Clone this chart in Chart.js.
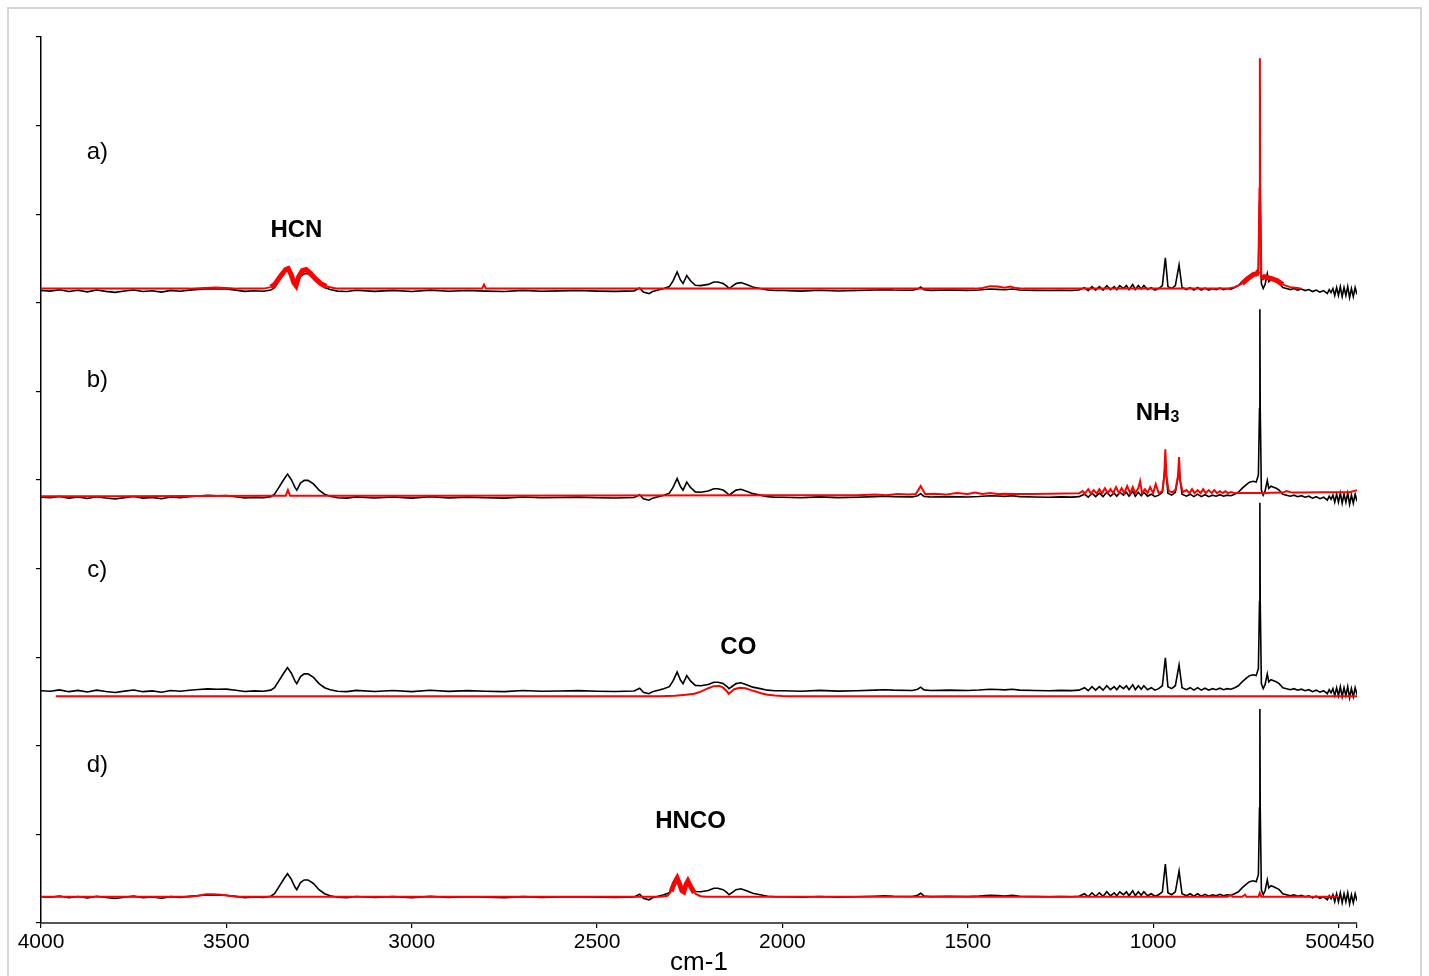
<!DOCTYPE html>
<html>
<head>
<meta charset="utf-8">
<script src="https://cdn.jsdelivr.net/npm/chart.js@4.4.1/dist/chart.umd.min.js"></script>
<style>
  html, body { margin: 0; padding: 0; background: #fff; }
  #wrap { width: 1429px; height: 976px; position: relative; }
</style>
</head>
<body>
<div id="wrap"><canvas id="spectra"></canvas></div>
<script>
// x ticks (wavenumber, cm-1)
const xTickValues = [4000, 3500, 3000, 2500, 2000, 1500, 1000, 500, 450];

// measured spectrum (black), same in every panel, heights above its own baseline
const blackWn = [
  4000, 3975, 3950, 3925, 3900, 3875, 3850, 3825, 3800, 3775, 3750, 3725, 3700, 3675, 3650, 3625,
  3600, 3575, 3550, 3525, 3500, 3475, 3450, 3425, 3400, 3380, 3370, 3360, 3345, 3335, 3325, 3315,
  3310, 3300, 3290, 3280, 3265, 3250, 3235, 3220, 3200, 3175, 3150, 3100, 3050, 3000, 2950, 2900,
  2850, 2800, 2750, 2700, 2650, 2600, 2550, 2500, 2450, 2400, 2385, 2375, 2360, 2350, 2335, 2320,
  2305, 2295, 2284, 2275, 2268, 2258, 2248, 2235, 2220, 2200, 2185, 2174, 2160, 2150, 2144, 2135,
  2125, 2112, 2095, 2080, 2060, 2040, 2020, 2000, 1950, 1900, 1850, 1800, 1750, 1725, 1700, 1650,
  1635, 1627, 1618, 1600, 1550, 1500, 1470, 1440, 1420, 1400, 1380, 1360, 1320, 1280, 1250, 1220,
  1200, 1185, 1175, 1165, 1155, 1145, 1135, 1125, 1115, 1105, 1098, 1090, 1080, 1072, 1065, 1055,
  1048, 1040, 1032, 1025, 1015, 1005, 995, 985, 975, 967, 960, 950, 940, 930, 922, 910,
  900, 890, 880, 870, 860, 850, 840, 830, 820, 810, 800, 790, 780, 770, 760, 750,
  740, 730, 722, 716, 713, 712, 711, 708, 703, 698, 692, 688, 682, 675, 668, 660,
  650, 640, 630, 620, 610, 600, 590, 580, 570, 560, 550, 540, 530, 525, 520, 515,
  510, 505, 500, 495, 490, 485, 480, 475, 470, 465, 460, 455, 450
];
const blackShape = [
  0, -0.6, 0.9, -1.1, 0.3, -1.4, 0.6, -0.9, -2, -0.5, 0.7, -1.1, -0.2, -1.7, 0.2, -0.7,
  0.5, 1.4, 2, 1.7, 1.8, 0.5, -0.9, -0.2, -0.7, 0.6, 3.4, 10, 20, 26, 20, 11,
  8, 16, 19, 19, 15, 8, 3.4, 1.1, -0.6, -1.1, 0.3, -0.9, 0.2, -1.1, 0.5, -0.8,
  0.1, -0.6, -1.1, 0.2, -0.7, -0.3, 0.1, -0.6, -0.9, -0.3, 2.8, -1.7, -3.4, -1.1, 0.6, 2.3,
  4.5, 11, 21, 12, 8, 17, 11, 6, 5.6, 7, 9.6, 9.6, 8, 5, 2.3, 5,
  8, 9, 6.5, 4, 2.3, 0.6, 0, 0, -0.6, 0.3, -0.5, 0, 0.6, 1.1, 0.6, 0.3,
  1.7, 4, 0.9, 0.2, 0.6, 0.2, 0.7, 1.7, 1.4, 0.9, 1.7, 0.6, 0.2, 0, 0.3, 0.1,
  0.6, 3.4, 0, 4.5, 0.6, 4.5, 0.6, 5.6, 1.1, 4.5, 1.1, 5.6, 2.3, 5.6, 1.1, 6.8,
  1.1, 5.6, 1.7, 5.6, 1.1, 3.4, 0.6, 2.3, 5.6, 37, 4.5, 2.3, 5.6, 29, 3.4, 1.1,
  3.4, 0.6, 3.4, 0.6, 2.8, 0.6, 2.3, 1.1, 2.8, 1.1, 2.3, 1.7, 3.4, 5.6, 10, 13.6,
  17, 18, 17, 25, 100, 212, 100, 8, 2.3, 6.8, 19, 10, 12.4, 11.3, 10, 8,
  3.4, 2.3, 1.1, 2.3, 0.6, 1.7, 0, 1.1, -1.1, 0.6, -1.7, 0, -3.4, 1.1, -2.3, 2.3,
  -5.6, 3.4, -5.6, 4.5, -6.8, 3.4, -5.6, 4.5, -8, 2.3, -6.8, 3.4, -4.5
];
const blackBaselines = [713.8, 480.6, 262.2, 29.6];

// reference spectra (red), heights above their baselines
const redAWn = [
  4000, 3600, 3560, 3530, 3500, 3470, 3400, 3380, 3370, 3355, 3340, 3333, 3325, 3318, 3312, 3305,
  3295, 3285, 3275, 3260, 3245, 3230, 3210, 3200, 2810, 2805, 2800, 1480, 1460, 1440, 1420, 1400,
  1385, 1370, 1350, 800, 780, 760, 745, 730, 720, 716, 713, 712, 711, 708, 700, 690,
  680, 665, 650, 630, 610, 600
];
const redAVal = [
  0, 0, 0.8, 1.2, 0.6, 0, 0, 1.7, 4.5, 13.5, 21.5, 22.6, 15.8, 6.8, 3.4, 13.5,
  20.3, 21.5, 18, 11.3, 5.6, 2.3, 0.6, 0, 0, 4.5, 0, 0, 0.8, 2.8, 2.3, 1.1,
  2.3, 0.6, 0, 0, 1.7, 5.6, 11.3, 15.8, 17, 20, 113, 260, 113, 11.3, 13.5, 12.4,
  11.3, 9, 4.5, 1.7, 0.6, 0
];
const redBWn = [
  4000, 3800, 3600, 3400, 3340, 3334, 3328, 3000, 2500, 2000, 1800, 1750, 1720, 1690, 1660, 1640,
  1627, 1615, 1590, 1560, 1530, 1500, 1480, 1460, 1440, 1420, 1400, 1370, 1330, 1280, 1240, 1200,
  1190, 1185, 1175, 1168, 1160, 1152, 1145, 1138, 1130, 1122, 1115, 1108, 1100, 1092, 1085, 1078,
  1070, 1062, 1055, 1048, 1040, 1035, 1030, 1022, 1015, 1008, 1000, 993, 985, 975, 970, 967,
  964, 958, 948, 940, 933, 930, 927, 920, 910, 902, 895, 888, 880, 872, 865, 858,
  850, 842, 835, 828, 820, 812, 805, 798, 790, 780, 760, 740, 720, 700, 680, 650,
  640, 630, 620, 600, 550, 500, 470, 455, 450
];
const redBVal = [
  0, 0, 0.2, 0.3, 0.3, 6.8, 0.3, 0.3, 0.6, 0.9, 1.1, 1.7, 1.1, 2.3, 1.7, 2.3,
  11.3, 2.3, 2.8, 1.7, 3.4, 2.3, 4, 2.3, 3.4, 2.3, 2.8, 2.3, 2.5, 2.7, 2.9, 3.2,
  5.6, 2.9, 7.9, 2.9, 6.8, 2.9, 7.9, 3.2, 9, 3.4, 7.9, 3.4, 10.2, 3.4, 9, 3.4,
  11.3, 3.4, 10.2, 3.4, 9, 17, 3.4, 7.9, 3.4, 10.2, 3.4, 13.5, 3.4, 5.6, 22.6, 53,
  22.6, 5.6, 4.5, 6.8, 22.6, 44, 17, 4.5, 6.8, 3.4, 7.9, 3.4, 6.8, 3.4, 7.9, 3.4,
  6.8, 3.4, 6.8, 3.4, 5.6, 3.4, 5.6, 3.4, 4.5, 3.4, 3.4, 3.4, 3.4, 3.4, 3.7, 4,
  5.6, 4.5, 4, 4, 4.3, 4.5, 4.5, 6.2, 6.8
];
const redCWn = [
  3960, 2330, 2290, 2260, 2238, 2220, 2200, 2185, 2170, 2160, 2150, 2145, 2140, 2130, 2115, 2100,
  2085, 2070, 2058, 2040, 2020, 2000, 1980, 450
];
const redCVal = [
  0, 0, 0.6, 1.7, 2.8, 5.1, 9, 11.3, 11.6, 9.6, 5.6, 2.8, 4.5, 7.9, 9.6, 9,
  6.8, 5.1, 3.4, 1.7, 0.9, 0.3, 0, 0
];
const redDWn = [
  4000, 3600, 3575, 3555, 3535, 3515, 3495, 3470, 2330, 2310, 2300, 2292, 2284, 2278, 2271, 2266,
  2260, 2255, 2248, 2238, 2228, 2220, 2205, 800, 790, 785, 760, 752, 748, 716, 712, 708,
  500
];
const redDVal = [
  0, 0, 1.1, 2.8, 2.8, 2.3, 1.1, 0, 0, 1.1, 6, 15, 21, 15, 7, 5.6,
  14, 17.7, 12, 4.5, 2, 0.6, 0, 0, 1.7, 0, 0, 2.3, 0, 0, 4.5, 0,
  0
];
const redBaselines = [716, 481.8, 256, 29.6];

const FONT = "'Liberation Sans', Arial, sans-serif";

function toPoints(wn, vals, base) {
  return wn.map((x, i) => ({ x: x, y: vals[i] + base }));
}

// wavenumber windows where the reference shows dense rotational structure
function thickIn(ranges) {
  return (ctx) => {
    const a = ctx.p0.parsed.x, b = ctx.p1.parsed.x;
    for (const [hi, lo] of ranges) {
      if (a <= hi && a >= lo && b <= hi && b >= lo) return 5;
    }
    return undefined;
  };
}

const redSets = [
  { wn: redAWn, vals: redAVal, thick: [[3385, 3215], [770, 714], [710, 640]] },
  { wn: redBWn, vals: redBVal, thick: [] },
  { wn: redCWn, vals: redCVal, thick: [] },
  { wn: redDWn, vals: redDVal, thick: [[2305, 2232]] }
];

const datasets = [];
blackBaselines.forEach((base, i) => {
  datasets.push({
    label: 'sample ' + i,
    data: toPoints(blackWn, blackShape, base),
    borderColor: '#000000',
    borderWidth: 1.6,
    pointRadius: 0,
    order: 2
  });
});
redSets.forEach((r, i) => {
  datasets.push({
    label: 'reference ' + i,
    data: toPoints(r.wn, r.vals, redBaselines[i]),
    borderColor: '#ff0000',
    borderWidth: 2,
    pointRadius: 0,
    order: 1,
    segment: { borderWidth: thickIn(r.thick) }
  });
});

// panel letters and compound names
const annotations = [
  { text: 'a)', wn: 3848, y: 872, bold: false },
  { text: 'b)', wn: 3848, y: 614, bold: false },
  { text: 'c)', wn: 3848, y: 400, bold: false },
  { text: 'd)', wn: 3848, y: 180, bold: false },
  { text: 'HCN', wn: 3311, y: 784, bold: true },
  { text: 'NH', sub: '3', wn: 988, y: 577, bold: true },
  { text: 'CO', wn: 2119, y: 313, bold: true },
  { text: 'HNCO', wn: 2248, y: 117, bold: true }
];

const framePlugin = {
  id: 'frame',
  beforeDraw(chart) {
    const c = chart.ctx;
    c.save();
    c.strokeStyle = '#d6d6d6';
    c.lineWidth = 2;
    c.strokeRect(8, 8, 1413, 1000);
    c.restore();
  },
  afterDraw(chart) {
    const c = chart.ctx;
    const xs = chart.scales.x, ys = chart.scales.y;
    c.save();
    c.fillStyle = '#000';
    c.textBaseline = 'alphabetic';
    annotations.forEach(a => {
      const px = xs.getPixelForValue(a.wn);
      const py = ys.getPixelForValue(a.y);
      const main = (a.bold ? 'bold ' : '') + '24px ' + FONT;
      c.font = main;
      const w1 = c.measureText(a.text).width;
      let w2 = 0;
      const subFont = 'bold 16px ' + FONT;
      if (a.sub) {
        c.font = subFont;
        w2 = c.measureText(a.sub).width;
      }
      const left = px - (w1 + w2) / 2;
      const base = py + 8.5;
      c.textAlign = 'left';
      c.font = main;
      c.fillText(a.text, left, base);
      if (a.sub) {
        c.font = subFont;
        c.fillText(a.sub, left + w1, base + 2);
      }
    });
    c.restore();
  }
};

new Chart(document.getElementById('spectra'), {
  type: 'line',
  data: { datasets: datasets },
  plugins: [framePlugin],
  options: {
    responsive: true,
    maintainAspectRatio: false,
    animation: false,
    layout: { padding: { top: 37, right: 72, left: 0, bottom: 0 } },
    plugins: {
      legend: { display: false },
      tooltip: { enabled: false }
    },
    elements: { line: { tension: 0 } },
    scales: {
      x: {
        type: 'linear',
        reverse: true,
        min: 450,
        max: 4000,
        afterBuildTicks: (axis) => {
          axis.ticks = xTickValues.map(v => ({ value: v }));
        },
        afterFit: (axis) => { axis.height = 53; },
        ticks: {
          autoSkip: false,
          maxRotation: 0,
          padding: 2,
          color: '#000',
          font: { family: FONT, size: 21 },
          callback: (v) => (v === 500 ? '500\u2002\u2002\u2002' : String(v))
        },
        grid: { drawOnChartArea: false, tickLength: 5, color: '#000', lineWidth: 1.2 },
        border: { display: true, color: '#555', width: 2 },
        title: {
          display: true,
          text: 'cm-1',
          color: '#000',
          font: { family: FONT, size: 26, lineHeight: 1 },
          padding: { top: 0, bottom: 0 }
        }
      },
      y: {
        min: 0,
        max: 1000,
        afterFit: (axis) => { axis.width = 41; },
        ticks: { display: false, stepSize: 100 },
        grid: { drawOnChartArea: false, tickLength: 5, color: '#000', lineWidth: 1.2 },
        border: { display: true, color: '#000', width: 1.5 }
      }
    }
  }
});
</script>
</body>
</html>
